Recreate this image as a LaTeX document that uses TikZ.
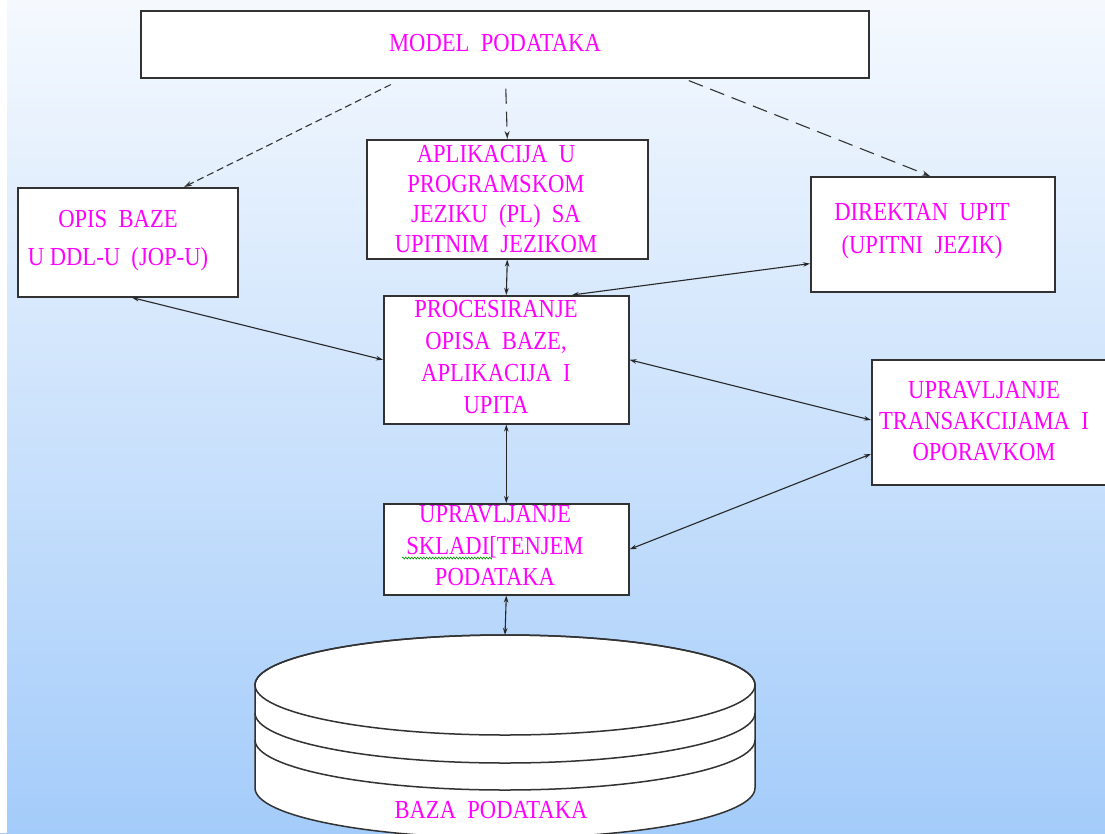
\documentclass[tikz,border=0pt]{standalone}
\usepackage{fontspec}
\setmainfont{Liberation Serif}
\newfontfamily\lblfont[FakeStretch=0.87]{Liberation Serif}
\usetikzlibrary{arrows.meta,calc,decorations.pathmorphing}
\definecolor{mag}{RGB}{255,0,255}
\definecolor{bgtop}{RGB}{245,249,254}
\definecolor{bgbot}{RGB}{164,204,250}
\definecolor{edge}{RGB}{50,50,50}
\begin{document}
\begin{tikzpicture}[x=1pt,y=-1pt,
  box/.style={draw=edge,line width=1.6pt,fill=white,anchor=north west,inner sep=0pt},
  lbl/.style={text=mag,align=center,inner sep=0pt,font=\lblfont\fontsize{26}{#1}\selectfont},
  lbl/.default=31,
  link/.style={line width=1.1pt,black!85,{Stealth[length=7pt,width=4.5pt]}-{Stealth[length=7pt,width=4.5pt]}},
  dsA/.style={line width=1.1pt,black!80,dash pattern=on 7pt off 4pt,-{Stealth[length=8pt,width=5pt]}},
  dsB/.style={line width=1.1pt,black!80,dash pattern=on 15pt off 8pt,-{Stealth[length=8pt,width=5pt]}},
  dbline/.style={draw=edge,line width=1.5pt}]

\useasboundingbox (0,0) rectangle (1105,833);
\clip (0,0) rectangle (1105,833);
\shade[top color=bgtop,bottom color=bgbot] (0,0) rectangle (1105,833);
\fill[white] (0,0) rectangle (7,833);

% boxes
\node[box,minimum width=728pt,minimum height=67pt] (model) at (140,10) {};
\node[box,minimum width=281pt,minimum height=119pt] (aplik) at (366,139) {};
\node[box,minimum width=220pt,minimum height=109pt] (opis) at (17,187) {};
\node[box,minimum width=244pt,minimum height=115pt] (direkt) at (810,176) {};
\node[box,minimum width=245pt,minimum height=128pt] (proc) at (383,295) {};
\node[box,minimum width=250pt,minimum height=125pt] (trans) at (871,359) {};
\node[box,minimum width=245pt,minimum height=91pt] (skl) at (383,503) {};

% labels
\node[lbl] (tmodel) at (495,43) {MODEL~~PODATAKA};
\node[lbl=30] (taplik) at (496,199) {APLIKACIJA~~U\\PROGRAMSKOM\\JEZIKU~~(PL)~~SA\\UPITNIM~~JEZIKOM};
\node[lbl=38] (topis) at (118,241) {OPIS~~BAZE\\U DDL-U~~(JOP-U)};
\node[lbl=33] (tdirekt) at (922,231) {DIREKTAN~~UPIT\\(UPITNI~~JEZIK)};
\node[lbl=32] (tproc) at (496,357) {PROCESIRANJE\\OPISA~~BAZE,\\APLIKACIJA~~I\\UPITA};
\node[lbl=31] (ttrans) at (984,421) {UPRAVLJANJE\\TRANSAKCIJAMA~~I\\OPORAVKOM};
\node[lbl=31.5] (tskl) at (495,546) {UPRAVLJANJE\\SKLADI[TENJEM\\PODATAKA};
\draw[green!60!black,line width=0.6pt,decorate,decoration={zigzag,segment length=3pt,amplitude=1pt}] (402,558) -- (492,558);

% database cylinder
\draw[dbline,fill=white] (255,685) -- (255,788)
  arc[start angle=180,end angle=0,x radius=250,y radius=50] -- (755,685)
  arc[start angle=0,end angle=-180,x radius=250,y radius=50] -- cycle;
\draw[dbline] (505,685) ellipse[x radius=250,y radius=50];
\draw[dbline] (255,713) arc[start angle=180,end angle=0,x radius=250,y radius=50];
\draw[dbline] (255,740) arc[start angle=180,end angle=0,x radius=250,y radius=50];
\coordinate (dbtop) at (505,635);
\node[lbl] (tbaza) at (491,810) {BAZA~~PODATAKA};

% dashed connectors from the data model
\coordinate (m1) at ($(model.south)+(-114,6)$);
\coordinate (m2) at ($(model.south)+(1,10)$);
\coordinate (m3) at ($(model.south)+(184,2)$);
\draw[dsA] (m1) -- ($(opis.north west)+(167,0)$);
\draw[dsB] (m2) -- (aplik.north);
\draw[dsB] (m3) -- ($(direkt.north west)+(120,0)$);

% solid two-way connectors
\draw[link] (aplik.south) -- (proc.north);
\draw[link] ($(opis.south west)+(115,0)$) -- (proc.west);
\draw[link] ($(proc.north west)+(189,0)$) -- ($(direkt.south west)+(0,-29)$);
\draw[link] (proc.east) -- ($(trans.north west)+(0,61)$);
\draw[link] (skl.east) -- ($(trans.north west)+(0,95)$);
\draw[link] (proc.south) -- (skl.north);
\draw[link] (skl.south) -- (dbtop);
\end{tikzpicture}
\end{document}
